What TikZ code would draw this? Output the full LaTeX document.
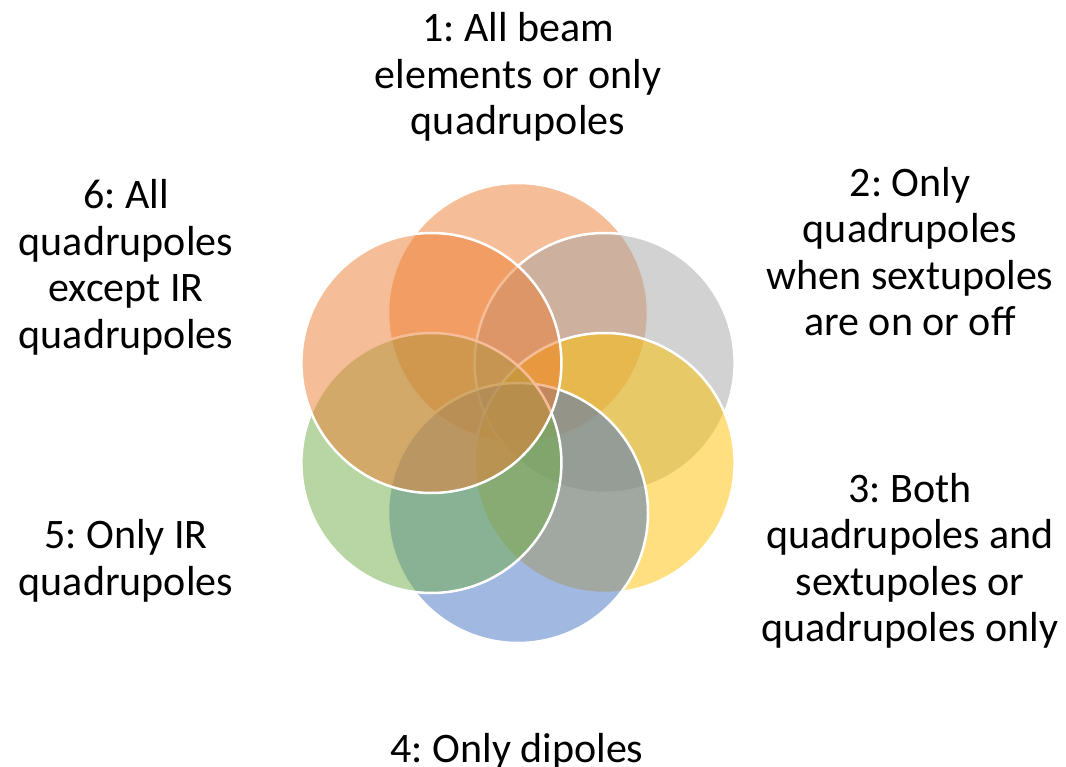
\documentclass[tikz,border=0pt]{standalone}
\usepackage{fontspec}
\setmainfont{Carlito}
\frenchspacing
\definecolor{aorange}{HTML}{ED7D31}
\definecolor{agray}{HTML}{A5A5A5}
\definecolor{agold}{HTML}{FFC000}
\definecolor{ablue}{HTML}{4472C4}
\definecolor{agreen}{HTML}{70AD47}
\begin{document}
\begin{tikzpicture}[x=1pt,y=-1pt,
  petal/.style={circle, minimum size=260pt, inner sep=0pt, draw=white, line width=2.5pt, fill opacity=0.5, draw opacity=1},
  lbl/.style={align=center, font=\fontsize{42}{46.5}\selectfont\frenchspacing, inner sep=0pt, anchor=base, text=black}]
\useasboundingbox (0,0) rectangle (1066,767);
\node[petal, fill=aorange] (c1) at (518,313) {};
\node[petal, fill=agray]   (c2) at (604.6,363) {};
\node[petal, fill=agold]   (c3) at (604.6,463) {};
\node[petal, fill=ablue]   (c4) at (518,513) {};
\node[petal, fill=agreen]  (c5) at (431.4,463) {};
\node[petal, fill=aorange] (c6) at (431.4,363) {};
\node[lbl] (t1) at (518,135) {1: All beam\\elements or only\\quadrupoles};
\node[lbl] (t2) at (910,336) {2: Only\\quadrupoles\\when sextupoles\\are on or off};
\node[lbl] (t3) at (910,641.7) {3: Both\\quadrupoles and\\sextupoles or\\quadrupoles only};
\node[lbl] (t4) at (517,762) {4: Only dipoles};
\node[lbl] (t5) at (126,595) {5: Only IR\\quadrupoles};
\node[lbl] (t6) at (126,348.3) {6: All\\quadrupoles\\except IR\\quadrupoles};
\end{tikzpicture}
\end{document}
